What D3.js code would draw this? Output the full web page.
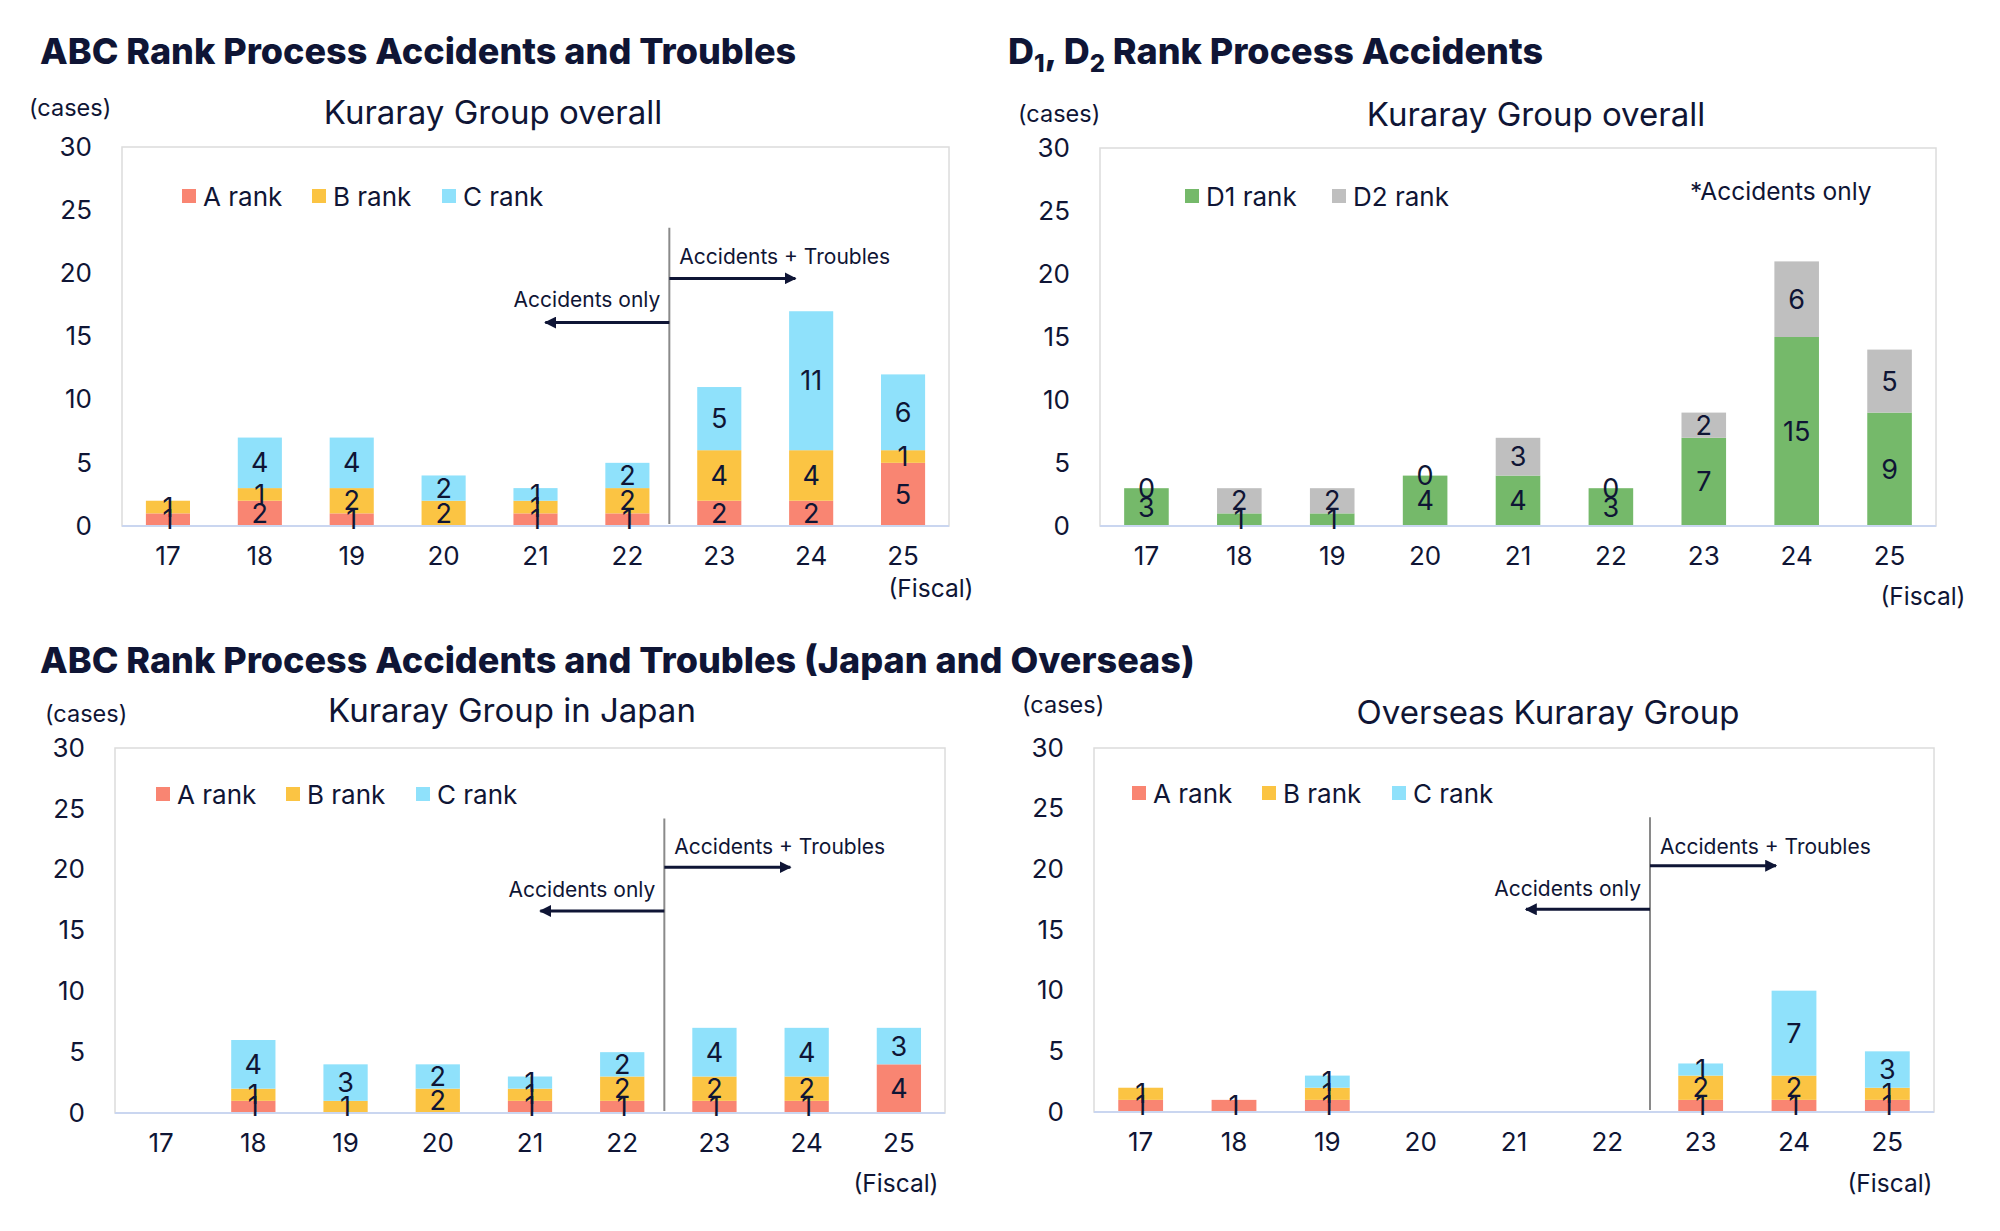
<!DOCTYPE html>
<html>
<head>
<meta charset="utf-8">
<script src="https://cdn.jsdelivr.net/npm/d3@7"></script>
<style>
  body { margin: 0; background: #fff; }
  text { font-family: Inter, 'Noto Sans', sans-serif; fill: #0f1535; }
</style>
</head>
<body>
<svg width="2000" height="1231"></svg>
<script>
// fiscal years on the x axis
const years = ['17', '18', '19', '20', '21', '22', '23', '24', '25'];
const yTicks = [0, 5, 10, 15, 20, 25, 30];

// ABC rank, Kuraray Group overall
const overallA = [1, 2, 1, 0, 1, 1, 2, 2, 5];
const overallB = [1, 1, 2, 2, 1, 2, 4, 4, 1];
const overallC = [0, 4, 4, 2, 1, 2, 5, 11, 6];

// D1 / D2 rank, Kuraray Group overall
const d1Values = [3, 1, 1, 4, 4, 3, 7, 15, 9];
const d2Values = [0, 2, 2, 0, 3, 0, 2, 6, 5];

// ABC rank, Kuraray Group in Japan
const japanA = [0, 1, 0, 0, 1, 1, 1, 1, 4];
const japanB = [0, 1, 1, 2, 1, 2, 2, 2, 0];
const japanC = [0, 4, 3, 2, 1, 2, 4, 4, 3];

// ABC rank, Overseas Kuraray Group
const overseasA = [1, 1, 1, 0, 0, 0, 1, 1, 1];
const overseasB = [1, 0, 1, 0, 0, 0, 2, 2, 1];
const overseasC = [0, 0, 1, 0, 0, 0, 1, 7, 3];

const rankKeys = ['A rank', 'B rank', 'C rank'];
const rankColors = ['#f98572', '#fbc443', '#8fe1fb'];
const dKeys = ['D1 rank', 'D2 rank'];
const dColors = ['#75b96a', '#bfbfbf'];

const svg = d3.select('svg');
const navy = '#0f1535';

svg.append('defs').append('marker')
  .attr('id', 'arrow')
  .attr('viewBox', '0 0 10 10')
  .attr('refX', 9).attr('refY', 5)
  .attr('markerWidth', 4).attr('markerHeight', 4)
  .attr('orient', 'auto-start-reverse')
  .append('path')
  .attr('d', 'M0,0 L10,5 L0,10 Z')
  .attr('fill', navy);

const drawChart = opt => {
  const { frame, keys, colors, series } = opt;
  const rows = years.map((year, i) => {
    const row = { year };
    keys.forEach((k, j) => { row[k] = series[j][i]; });
    return row;
  });
  const stacked = d3.stack().keys(keys)(rows);

  const xScale = d3.scaleBand()
    .domain(years)
    .range([frame.left, frame.right])
    .paddingInner(0.52)
    .paddingOuter(0.26);

  const yScale = d3.scaleLinear()
    .domain([0, 30])
    .range([frame.bottom, frame.top]);

  const g = svg.append('g');

  // plot frame
  g.append('rect')
    .attr('x', frame.left)
    .attr('y', frame.top)
    .attr('width', frame.right - frame.left)
    .attr('height', frame.bottom - frame.top)
    .attr('fill', 'none')
    .attr('stroke', '#dcdcdc')
    .attr('stroke-width', 1.5);

  const yAxis = d3.axisLeft(yScale)
    .tickValues(yTicks)
    .tickSize(0)
    .tickPadding(30);
  const yAxisG = g.append('g')
    .attr('transform', `translate(${frame.left},0)`)
    .call(yAxis);
  yAxisG.select('.domain').remove();
  yAxisG.selectAll('text')
    .style('font-size', '26px')
    .attr('fill', navy);

  const xAxis = d3.axisBottom(xScale)
    .tickSize(0)
    .tickPadding(21);
  const xAxisG = g.append('g')
    .attr('transform', `translate(0,${frame.bottom})`)
    .call(xAxis);
  xAxisG.select('.domain').remove();
  xAxisG.selectAll('text')
    .style('font-size', '26px')
    .attr('fill', navy);

  // stacked bars
  const layers = g.append('g').selectAll('g')
    .data(stacked)
    .join('g')
    .attr('fill', (d, i) => colors[i]);
  layers.selectAll('rect')
    .data(d => d)
    .join('rect')
    .attr('x', d => xScale(d.data.year))
    .attr('y', d => yScale(d[1]))
    .attr('width', xScale.bandwidth())
    .attr('height', d => yScale(d[0]) - yScale(d[1]));

  // baseline
  g.append('line')
    .attr('x1', frame.left).attr('x2', frame.right)
    .attr('y1', yScale(0)).attr('y2', yScale(0))
    .attr('stroke', '#cad6f0')
    .attr('stroke-width', 2);

  // split line and arrows
  if (opt.split) {
    const s = opt.split;
    const step = xScale.step();
    const xs = xScale('23') - step * xScale.paddingInner() / 2 - 4;
    g.append('line')
      .attr('x1', xs).attr('x2', xs)
      .attr('y1', yScale(s.top)).attr('y2', yScale(0) - 2)
      .attr('stroke', '#8a8a8a')
      .attr('stroke-width', 2);
    g.append('line')
      .attr('x1', xs).attr('x2', xs + 126)
      .attr('y1', yScale(s.rightArrow)).attr('y2', yScale(s.rightArrow))
      .attr('stroke', navy).attr('stroke-width', 3)
      .attr('marker-end', 'url(#arrow)');
    g.append('line')
      .attr('x1', xs).attr('x2', xs - 124)
      .attr('y1', yScale(s.leftArrow)).attr('y2', yScale(s.leftArrow))
      .attr('stroke', navy).attr('stroke-width', 3)
      .attr('marker-end', 'url(#arrow)');
    g.append('text')
      .attr('x', xs + 10)
      .attr('y', yScale(s.rightText))
      .attr('dominant-baseline', 'central')
      .style('font-size', '21px')
      .text('Accidents + Troubles');
    g.append('text')
      .attr('x', xs - 9)
      .attr('y', yScale(s.leftText))
      .attr('dominant-baseline', 'central')
      .attr('text-anchor', 'end')
      .style('font-size', '21px')
      .text('Accidents only');
  }

  // data labels
  const labelG = g.append('g');
  stacked.forEach(layer => {
    labelG.selectAll(null)
      .data(layer.filter(d => opt.showZero || d[1] - d[0] !== 0))
      .join('text')
      .attr('x', d => xScale(d.data.year) + xScale.bandwidth() / 2)
      .attr('y', d => yScale((d[0] + d[1]) / 2))
      .attr('text-anchor', 'middle')
      .attr('dominant-baseline', 'central')
      .style('font-size', '27px')
      .text(d => d[1] - d[0]);
  });

  // legend
  const legend = g.append('g')
    .attr('transform', `translate(${opt.legend.x},${opt.legend.y})`);
  keys.forEach((k, i) => {
    const item = legend.append('g')
      .attr('transform', `translate(${i * opt.legend.step},0)`);
    item.append('rect')
      .attr('x', 0).attr('y', -7)
      .attr('width', 14).attr('height', 14)
      .attr('fill', colors[i]);
    item.append('text')
      .attr('x', 21)
      .attr('y', 0)
      .attr('dominant-baseline', 'central')
      .style('font-size', '26px')
      .text(k);
  });

  // subtitle, unit, fiscal
  g.append('text')
    .attr('x', opt.subtitle.x)
    .attr('y', opt.subtitle.y)
    .attr('text-anchor', 'middle')
    .attr('dominant-baseline', 'central')
    .style('font-size', '33px')
    .text(opt.subtitle.text);
  g.append('text')
    .attr('x', opt.cases.x)
    .attr('y', opt.cases.y)
    .attr('dominant-baseline', 'central')
    .style('font-size', '23.5px')
    .text('(cases)');
  g.append('text')
    .attr('x', opt.fiscal.x)
    .attr('y', opt.fiscal.y)
    .attr('text-anchor', 'middle')
    .attr('dominant-baseline', 'central')
    .style('font-size', '24.5px')
    .text('(Fiscal)');

  if (opt.note) {
    g.append('text')
      .attr('x', opt.note.x)
      .attr('y', opt.note.y)
      .attr('dominant-baseline', 'central')
      .style('font-size', '24.5px')
      .text(opt.note.text);
  }
};

// section titles
svg.append('text')
  .attr('x', 40).attr('y', 64)
  .style('font-size', '36px').style('font-weight', 800)
  .text('ABC Rank Process Accidents and Troubles');

const dTitle = svg.append('text')
  .attr('x', 1008).attr('y', 64)
  .style('font-size', '36px').style('font-weight', 800);
dTitle.append('tspan').text('D');
dTitle.append('tspan').attr('dy', 8).style('font-size', '24px').text('1');
dTitle.append('tspan').attr('dy', -8).text(', D');
dTitle.append('tspan').attr('dy', 8).style('font-size', '24px').text('2');
dTitle.append('tspan').attr('dy', -8).text(' Rank Process Accidents');

svg.append('text')
  .attr('x', 40).attr('y', 673)
  .style('font-size', '36px').style('font-weight', 800)
  .text('ABC Rank Process Accidents and Troubles (Japan and Overseas)');

drawChart({
  frame: { left: 122, right: 949, top: 147, bottom: 526 },
  keys: rankKeys, colors: rankColors,
  series: [overallA, overallB, overallC],
  showZero: false,
  legend: { x: 182, y: 196, step: 130 },
  subtitle: { text: 'Kuraray Group overall', x: 493, y: 112 },
  cases: { x: 29, y: 107 },
  fiscal: { x: 931, y: 588 },
  split: { top: 23.6, rightArrow: 19.6, leftArrow: 16.1, rightText: 21.3, leftText: 17.9 }
});

drawChart({
  frame: { left: 1100, right: 1936, top: 148, bottom: 526 },
  keys: dKeys, colors: dColors,
  series: [d1Values, d2Values],
  showZero: true,
  legend: { x: 1185, y: 196, step: 147 },
  subtitle: { text: 'Kuraray Group overall', x: 1536, y: 114 },
  cases: { x: 1018, y: 113 },
  fiscal: { x: 1923, y: 596 },
  note: { text: '*Accidents only', x: 1690, y: 191 }
});

drawChart({
  frame: { left: 115, right: 945, top: 748, bottom: 1113 },
  keys: rankKeys, colors: rankColors,
  series: [japanA, japanB, japanC],
  showZero: false,
  legend: { x: 156, y: 794, step: 130 },
  subtitle: { text: 'Kuraray Group in Japan', x: 512, y: 710 },
  cases: { x: 45, y: 713 },
  fiscal: { x: 896, y: 1183 },
  split: { top: 24.2, rightArrow: 20.2, leftArrow: 16.6, rightText: 21.9, leftText: 18.4 }
});

drawChart({
  frame: { left: 1094, right: 1934, top: 748, bottom: 1112 },
  keys: rankKeys, colors: rankColors,
  series: [overseasA, overseasB, overseasC],
  showZero: false,
  legend: { x: 1132, y: 793, step: 130 },
  subtitle: { text: 'Overseas Kuraray Group', x: 1548, y: 712 },
  cases: { x: 1022, y: 704 },
  fiscal: { x: 1890, y: 1183 },
  split: { top: 24.3, rightArrow: 20.3, leftArrow: 16.7, rightText: 21.9, leftText: 18.4 }
});
</script>
</body>
</html>
